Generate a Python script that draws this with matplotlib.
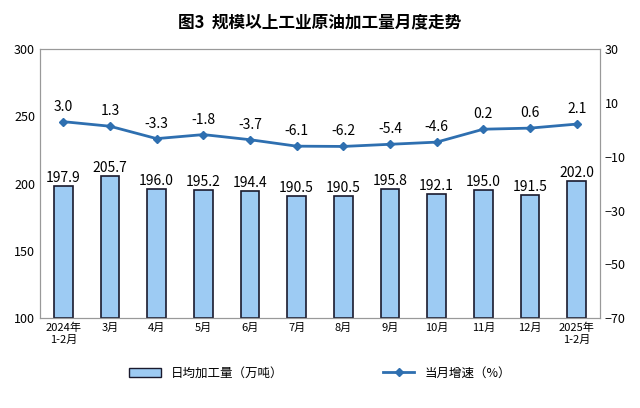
import matplotlib.pyplot as plt
import numpy as np
from matplotlib.lines import Line2D
from matplotlib.patches import Patch

plt.rcParams['font.family'] = 'sans-serif'
plt.rcParams['font.sans-serif'] = ['Noto Sans CJK SC', 'Noto Sans CJK JP', 'Noto Sans CJK TC',
                                   'Noto Sans CJK KR', 'DejaVu Sans']

months = ['2024年\n1-2月', '3月', '4月', '5月', '6月', '7月', '8月', '9月', '10月', '11月', '12月', '2025年\n1-2月']
daily_output = [197.9, 205.7, 196.0, 195.2, 194.4, 190.5, 190.5, 195.8, 192.1, 195.0, 191.5, 202.0]
growth = [3.0, 1.3, -3.3, -1.8, -3.7, -6.1, -6.2, -5.4, -4.6, 0.2, 0.6, 2.1]

fig = plt.figure(figsize=(6.4, 4.08), dpi=100)
ax = fig.add_axes([0.0625, 0.22, 0.875, 0.66])
x = np.arange(len(months))

ax.bar(x, [v - 100 for v in daily_output], bottom=100, width=0.4,
       color='#9DCBF3', edgecolor='#1a1a2e', linewidth=1.2)
for xi, v in zip(x, daily_output):
    ax.text(xi, v + 1, f'{v:.1f}', ha='center', va='bottom', fontsize=10)
ax.set_ylim(100, 300)
ax.set_yticks(range(100, 301, 50))
ax.set_xlim(-0.5, len(months) - 0.5)
ax.set_xticks(x)
ax.set_xticklabels(months, fontsize=8)
ax.tick_params(axis='x', length=0)
ax.tick_params(axis='y', labelsize=9, length=0)
for s in ax.spines.values():
    s.set_color('#999999')

ax2 = ax.twinx()
ax2.plot(x, growth, color='#2E6FB0', linewidth=2, marker='D', markersize=4)
for xi, v in zip(x, growth):
    ax2.text(xi, v + 3, f'{v:.1f}', ha='center', va='bottom', fontsize=10)
ax2.set_ylim(-70, 30)
ax2.set_yticks(range(-70, 31, 20))
ax2.tick_params(axis='y', labelsize=9, length=0)
for s in ax2.spines.values():
    s.set_color('#999999')

fig.text(0.5, 0.945, '图3  规模以上工业原油加工量月度走势', ha='center', va='center',
         fontsize=12, fontweight='bold')

handles = [Patch(facecolor='#9DCBF3', edgecolor='#1a1a2e', label='日均加工量（万吨）'),
           Line2D([0], [0], color='#2E6FB0', lw=2, marker='D', markersize=4, label='当月增速（%）')]
fig.legend(handles=handles, loc='center', bbox_to_anchor=(0.5, 0.085), ncol=2,
           frameon=False, fontsize=9, columnspacing=8, handlelength=2.5)

fig.savefig('out.png', dpi=100)
